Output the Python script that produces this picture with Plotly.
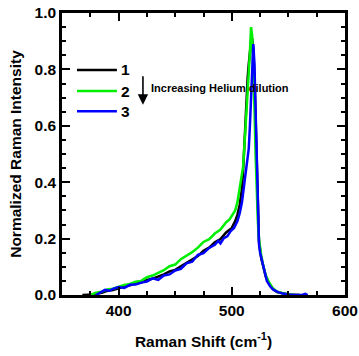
import plotly.graph_objects as go

# Series 1 (black)
x1 = [368, 378, 385, 390, 395, 400, 405, 410, 415, 420, 425, 430, 435, 440, 445, 450, 455, 460,
      465, 470, 475, 480, 485, 490, 495, 500, 503, 505, 507, 509, 510, 511, 512, 513, 514, 515,
      516, 517, 518, 519, 520, 521, 522, 523, 524, 526, 528, 530, 533, 536, 540, 545, 550, 560]
y1 = [0.0, 0.002, 0.008, 0.015, 0.018, 0.025, 0.03, 0.034, 0.041, 0.044, 0.053, 0.058, 0.066, 0.073,
      0.084, 0.089, 0.102, 0.113, 0.127, 0.138, 0.157, 0.168, 0.187, 0.198, 0.222, 0.238, 0.262,
      0.285, 0.32, 0.38, 0.44, 0.53, 0.63, 0.71, 0.77, 0.82, 0.86, 0.90, 0.91, 0.87, 0.78, 0.62,
      0.42, 0.26, 0.19, 0.13, 0.095, 0.065, 0.04, 0.022, 0.01, 0.005, 0.002, 0.0]

# Series 2 (green)
x2 = [375, 380, 385, 390, 395, 400, 405, 410, 415, 420, 425, 430, 435, 440, 445, 450, 455, 460,
      465, 470, 475, 480, 485, 490, 495, 498, 501, 503, 505, 507, 509, 510, 511, 512, 513, 514,
      515, 516, 517, 518, 519, 520, 521, 522, 523, 524, 526, 528, 530, 533, 536, 540, 545, 550, 555]
y2 = [0.0, 0.008, 0.012, 0.02, 0.022, 0.03, 0.036, 0.039, 0.047, 0.05, 0.063, 0.069, 0.079, 0.088,
      0.102, 0.108, 0.127, 0.138, 0.152, 0.168, 0.188, 0.198, 0.218, 0.232, 0.258, 0.268, 0.29,
      0.30, 0.33, 0.38, 0.42, 0.455, 0.52, 0.6, 0.67, 0.73, 0.79, 0.86, 0.95, 0.92, 0.82, 0.67,
      0.5, 0.36, 0.26, 0.2, 0.14, 0.1, 0.07, 0.045, 0.025, 0.012, 0.006, 0.003, 0.0]

# Series 3 (blue)
x3 = [380, 385, 388, 392, 395, 400, 405, 410, 415, 420, 425, 430, 435, 440, 445, 450, 455, 460,
      465, 470, 475, 480, 485, 488, 490, 493, 496, 499, 502, 505, 507, 509, 510, 511, 512, 513,
      514, 515, 516, 517, 518, 519, 520, 521, 522, 523, 524, 525, 527, 529, 531, 534, 537, 541,
      545, 550, 555, 562, 565, 567]
y3 = [0.0, 0.01, 0.018, 0.015, 0.022, 0.028, 0.025, 0.036, 0.037, 0.044, 0.048, 0.059, 0.054, 0.069,
      0.073, 0.087, 0.093, 0.112, 0.118, 0.142, 0.148, 0.167, 0.178, 0.192, 0.183, 0.202, 0.208,
      0.227, 0.238, 0.262, 0.29, 0.33, 0.36, 0.39, 0.42, 0.45, 0.48, 0.52, 0.6, 0.69, 0.8, 0.89,
      0.82, 0.65, 0.42, 0.24, 0.18, 0.15, 0.115, 0.075, 0.05, 0.03, 0.018, 0.01, 0.005, 0.002,
      0.0, 0.0, 0.004, 0.0]

names = ["1", "2", "3"]
colors = ["#000000", "#00ee00", "#0000ff"]

x_ticks = [400, 500, 600]
y_ticks = [0.0, 0.2, 0.4, 0.6, 0.8, 1.0]
y_tick_text = ["0.0", "0.2", "0.4", "0.6", "0.8", "1.0"]

FONT = "Liberation Sans"

fig = go.Figure()
for xs, ys, n, c in zip([x1, x2, x3], [y1, y2, y3], names, colors):
    fig.add_trace(go.Scatter(x=xs, y=ys, mode="lines", name=n, showlegend=False,
                             line=dict(color=c, width=2.5)))

axis_common = dict(
    showline=True, linecolor="black", linewidth=2.5, mirror="ticks",
    ticks="inside", ticklen=8, tickwidth=2, tickcolor="black",
    showgrid=False, zeroline=False, automargin=False,
    tickfont=dict(family=FONT, size=15.5, color="black", weight="bold"),
)

fig.update_xaxes(
    range=[350, 600], tickvals=x_ticks, ticktext=[str(v) for v in x_ticks],
    minor=dict(ticks="inside", ticklen=4, tickwidth=2, tickcolor="black", dtick=25, tick0=350),
    title=dict(text="Raman Shift (cm<sup>-1</sup>)",
               font=dict(family=FONT, size=15.5, color="black", weight="bold"), standoff=18),
    **axis_common,
)
fig.update_yaxes(
    range=[0, 1.0], tickvals=y_ticks, ticktext=y_tick_text,
    minor=dict(ticks="inside", ticklen=4, tickwidth=2, tickcolor="black", dtick=0.05, tick0=0),
    title=dict(text="Normalized Raman Intensity",
               font=dict(family=FONT, size=15.5, color="black", weight="bold"), standoff=10),
    **axis_common,
)

# Manual legend (line swatches + labels)
leg_y = [0.798, 0.723, 0.652]
for n, c, ly in zip(names, colors, leg_y):
    fig.add_shape(type="line", xref="paper", yref="paper", x0=0.053, x1=0.194, y0=ly, y1=ly,
                  line=dict(color=c, width=2.5))
    fig.add_annotation(x=0.203, y=ly, xref="paper", yref="paper", text=n, showarrow=False,
                       xanchor="left", yanchor="middle",
                       font=dict(family=FONT, size=15.5, color="black", weight="bold"))

fig.add_annotation(x=421.5, y=0.675, xref="x", yref="y", text="", showarrow=True,
                   ax=0, ay=-30, arrowhead=2, arrowsize=1.3, arrowwidth=1.6, arrowcolor="black")
fig.add_annotation(x=427, y=0.735, xref="x", yref="y", text="Increasing Helium dilution",
                   showarrow=False, xanchor="left", yanchor="middle",
                   font=dict(family=FONT, size=11, color="black", weight="bold"))

fig.update_layout(
    width=359, height=356,
    margin=dict(l=62, r=14, t=13, b=61),
    paper_bgcolor="white", plot_bgcolor="white",
    showlegend=False,
)

fig.write_html("out.html")
